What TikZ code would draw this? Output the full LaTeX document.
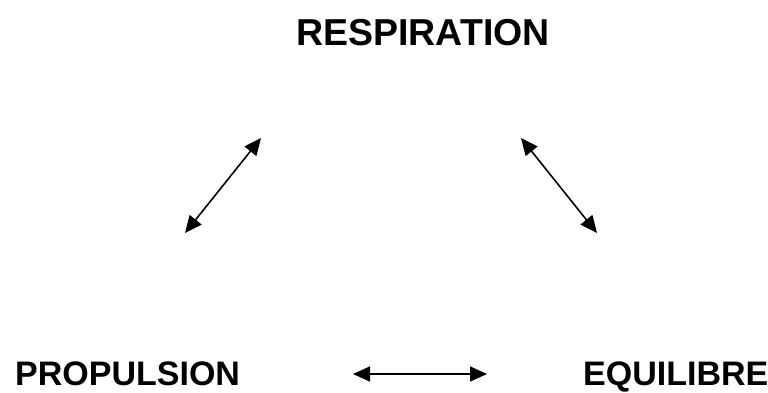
\documentclass[tikz,border=0pt]{standalone}
\usepackage{fontspec}
\setmainfont{Liberation Sans}
\usetikzlibrary{arrows.meta, positioning}

\begin{document}
\begin{tikzpicture}[
    x=1pt, y=-1pt,
    term/.style={font=\bfseries\fontsize{34}{40}\selectfont, inner sep=0pt, anchor=base west},
    link/.style={{Triangle[length=17pt, width=15pt]}-{Triangle[length=17pt, width=15pt]}, line width=1.6pt}
]
    \useasboundingbox (0,0) rectangle (768,392);

    % Terms
    \node[term, font=\bfseries\fontsize{37.5}{42}\selectfont] (resp) at (296,45) {RESPIRATION};
    \node[term] (prop) at (15,385) {PROPULSION};
    \node[term] (equi) at (583,385) {EQUILIBRE};

    % Arrow ends
    \coordinate (lefttop) at (261,138);
    \coordinate (leftbot) at (185,233);
    \coordinate (righttop) at (521,138);
    \coordinate (rightbot) at (597,233);
    \coordinate (botleft) at (353,374);
    \coordinate (botright) at (487,374);

    % Arrows
    \draw[link] (leftbot) -- (lefttop);
    \draw[link] (righttop) -- (rightbot);
    \draw[link] (botleft) -- (botright);
\end{tikzpicture}
\end{document}
